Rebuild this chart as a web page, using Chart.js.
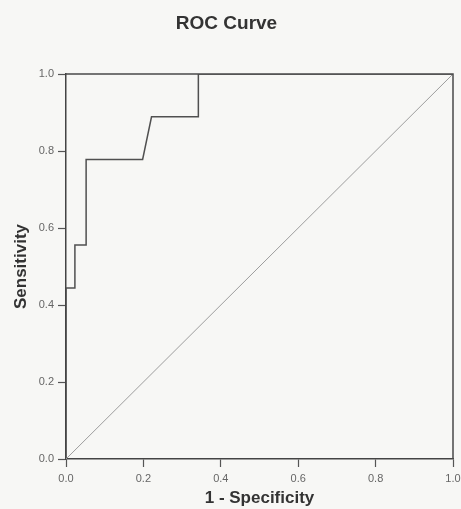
<!DOCTYPE html>
<html>
<head>
<meta charset="utf-8">
<script src="https://cdn.jsdelivr.net/npm/chart.js@4/dist/chart.umd.min.js"></script>
<style>
  html, body { margin: 0; padding: 0; background: #f7f7f5; }
  canvas { display: block; }
</style>
</head>
<body>
<canvas id="c" width="461" height="509"></canvas>
<script>
// ROC curve (1 - specificity vs sensitivity)
const fpr = [0, 0, 0.023, 0.023, 0.052, 0.052, 0.198, 0.221, 0.342, 0.342, 1];
const tpr = [0, 0.444, 0.444, 0.556, 0.556, 0.778, 0.778, 0.889, 0.889, 1, 1];
// reference diagonal
const refX = [0, 1];
const refY = [0, 1];
const tickValues = [0, 0.2, 0.4, 0.6, 0.8, 1.0];

const toPts = (xs, ys) => xs.map((x, i) => ({ x: x, y: ys[i] }));

const frame = {
  id: 'frame',
  afterDatasetsDraw(chart) {
    const { ctx, chartArea: a } = chart;
    ctx.save();
    ctx.strokeStyle = '#4a4a4a';
    ctx.lineWidth = 1.5;
    ctx.beginPath();
    ctx.moveTo(a.left, a.top);
    ctx.lineTo(a.right, a.top);
    ctx.lineTo(a.right, a.bottom);
    ctx.stroke();
    ctx.restore();
  }
};

new Chart(document.getElementById('c'), {
  type: 'line',
  data: {
    datasets: [
      {
        label: 'Reference',
        data: toPts(refX, refY),
        borderColor: '#9d9d9d',
        borderWidth: 1,
        pointRadius: 0,
        tension: 0
      },
      {
        label: 'ROC',
        data: toPts(fpr, tpr),
        borderColor: '#505050',
        borderWidth: 1.5,
        pointRadius: 0,
        tension: 0
      }
    ]
  },
  options: {
    responsive: false,
    devicePixelRatio: 1,
    animation: false,
    layout: { padding: { left: 0, right: 8, top: 0, bottom: 0 } },
    plugins: {
      legend: { display: false },
      tooltip: { enabled: false },
      title: {
        display: true,
        text: 'ROC Curve',
        color: '#333',
        font: { family: 'Liberation Sans, Arial, sans-serif', size: 19, weight: 'bold' },
        padding: { top: 12.6, bottom: 38.6 }
      }
    },
    scales: {
      x: {
        type: 'linear',
        min: 0, max: 1,
        afterFit(s) { s.height = 50; s.paddingRight = 0; s.paddingLeft = 0; },
        afterBuildTicks(s) { s.ticks = tickValues.map(v => ({ value: v })); },
        ticks: {
          color: '#666',
          font: { family: 'Liberation Sans, Arial, sans-serif', size: 11 },
          padding: 5,
          maxRotation: 0,
          callback: v => v.toFixed(1)
        },
        grid: { drawOnChartArea: false, drawTicks: true, tickLength: 8, color: '#555', tickWidth: 1.2 },
        border: { color: '#444', width: 1.5 },
        title: {
          display: true,
          text: '1 - Specificity',
          color: '#333',
          font: { family: 'Liberation Sans, Arial, sans-serif', size: 17, weight: 'bold' },
          padding: { top: 0, bottom: 0 }
        }
      },
      y: {
        type: 'linear',
        min: 0, max: 1,
        afterFit(s) { s.width = 66; },
        afterBuildTicks(s) { s.ticks = tickValues.map(v => ({ value: v })); },
        ticks: {
          color: '#666',
          font: { family: 'Liberation Sans, Arial, sans-serif', size: 11 },
          padding: 4,
          callback: v => v.toFixed(1)
        },
        grid: { drawOnChartArea: false, drawTicks: true, tickLength: 8, color: '#555', tickWidth: 1.2 },
        border: { color: '#444', width: 1.5 },
        title: {
          display: true,
          text: 'Sensitivity',
          color: '#333',
          font: { family: 'Liberation Sans, Arial, sans-serif', size: 17, weight: 'bold' },
          padding: { top: 11, bottom: 0 }
        }
      }
    }
  },
  plugins: [frame]
});
</script>
</body>
</html>
